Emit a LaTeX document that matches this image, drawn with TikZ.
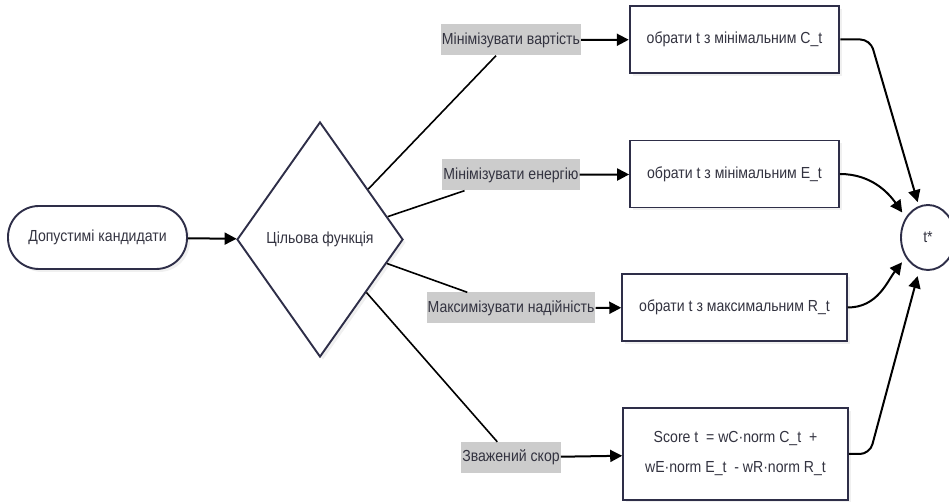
\documentclass[tikz,border=0pt]{standalone}
\usepackage{fontspec}
\setmainfont{Liberation Sans}[FakeStretch=0.88]
\usetikzlibrary{shapes.geometric,arrows.meta,shadows}
\definecolor{nodeline}{RGB}{46,46,72}
\definecolor{nodetext}{RGB}{51,51,64}
\definecolor{lblfill}{RGB}{204,204,204}

\begin{document}
\begin{tikzpicture}[x=1pt,y=1pt,>={Triangle[length=12pt,width=12pt]},
        every node/.style={font=\fontsize{16}{19}\selectfont,text=nodetext},
        boxshadow/.style={drop shadow={shadow xshift=3pt,shadow yshift=-3pt,opacity=.12}},
        term/.style={draw=nodeline,line width=1.9pt,fill=white,rounded corners=31pt,
                minimum width=179pt,minimum height=63pt,boxshadow},
        choice/.style={diamond,draw=nodeline,line width=1.9pt,fill=white,inner sep=0pt,
                minimum width=166pt,minimum height=235pt,boxshadow},
        lbl/.style={fill=lblfill,inner xsep=1pt,inner ysep=0pt,minimum height=31pt},
        proc/.style={draw=nodeline,line width=1.9pt,fill=white,inner xsep=17pt,
                minimum height=67pt,boxshadow},
        link/.style={line width=2pt,black},
        branch/.style={line width=1.6pt,black}]
        % fix the page
        \useasboundingbox (0,0) rectangle (949,502);

        % start and the choice
        \node[term] (start) at (97.5,264.5) {Допустимі кандидати};
        \node[choice] (obj) at (320,262.5) {Цільова функція};

        % the four criteria on the edges
        \node[lbl] (l1) at (511,462) {Мінімізувати вартість};
        \node[lbl] (l2) at (511,327) {Мінімізувати енергію};
        \node[lbl] (l3) at (511,194) {Максимізувати надійність};
        \node[lbl] (l4) at (511,44.5) {Зважений скор};

        % what is done for each criterion
        \node[proc] (b1) at (734.5,462.5) {обрати t з мінімальним C\_t};
        \node[proc] (b2) at (734.5,328) {обрати t з мінімальним E\_t};
        \node[proc] (b3) at (734.5,194.5) {обрати t з максимальним R\_t};
        \node[proc,inner xsep=22pt,minimum height=92pt,align=center,
                font=\fontsize{16}{30}\selectfont] (b4) at (735.5,48)
                {Score t\ \ = wC·norm C\_t\ \ +\\ wE·norm E\_t\ \ - wR·norm R\_t};

        % the result
        \node[ellipse,draw=nodeline,line width=1.9pt,fill=white,inner sep=0pt,
                minimum width=54pt,minimum height=65pt] (tstar) at (928,264.5) {t*};

        % connectors
        \draw[link,->] (start) -- (obj);
        \foreach \k in {1,2,3,4} {
                \draw[branch] (obj) -- (l\k);
                \draw[link,->] (l\k) -- (b\k);
        }
        \draw[link,->,rounded corners=10pt,shorten >=4pt] (b1.east) -- ++(30,0) -- (tstar);
        \draw[link,->,shorten >=6pt] (b2.east) to[out=0,in=125] (tstar.138);
        \draw[link,->,shorten >=6pt] (b3.east) to[out=0,in=-128] (tstar.-138);
        \draw[link,->,rounded corners=10pt,shorten >=7pt] (b4.east) -- ++(21,0) -- (tstar);
\end{tikzpicture}
\end{document}
